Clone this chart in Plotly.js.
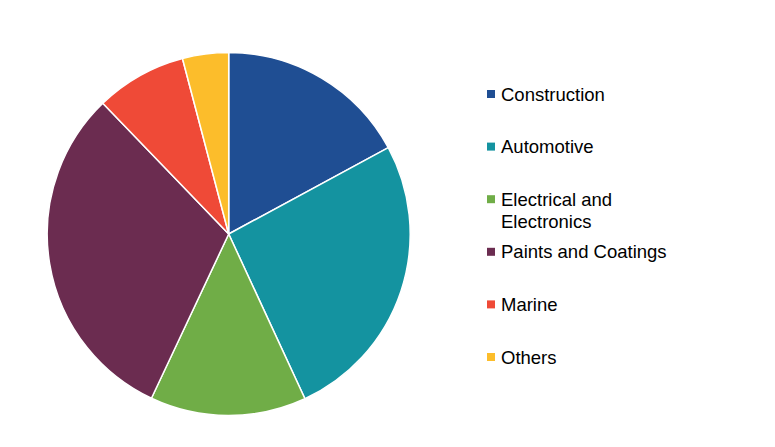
<!DOCTYPE html>
<html>
<head>
<meta charset="utf-8">
<script src="https://cdn.plot.ly/plotly-3.0.1.min.js"></script>
<style>html,body{margin:0;padding:0;background:#fff;}#chart{width:775px;height:447px;}</style>
</head>
<body>
<div id="chart"></div>
<script>
const categories = ["Construction", "Automotive", "Electrical and Electronics", "Paints and Coatings", "Marine", "Others"];
const legendLabels = ["Construction", "Automotive", "Electrical and<br>Electronics", "Paints and Coatings", "Marine", "Others"];
const shares = [17.1, 26.0, 13.9, 30.8, 8.1, 4.1];
const colors = ["#1F4E93", "#1493A0", "#70AD47", "#6B2C50", "#EF4A37", "#FCBD2B"];

const W = 775, H = 447;
const cx = 228.7, cy = 234, r = 181.5;

const trace = {
  type: "pie",
  labels: categories,
  values: shares,
  sort: false,
  direction: "clockwise",
  rotation: 0,
  textinfo: "none",
  hoverinfo: "label+percent",
  marker: {colors: colors, line: {color: "#ffffff", width: 1.5}},
  domain: {
    x: [(cx - r) / W, (cx + r) / W],
    y: [(H - cy - r) / H, (H - cy + r) / H]
  },
  showlegend: false
};

const legendX = 487, legendTextX = 499, legendY0 = 94, legendStep = 52.6, lineStep = 22;
const shapes = [], annotations = [];
categories.forEach((c, i) => {
  const y = legendY0 + i * legendStep;
  shapes.push({
    type: "rect", xref: "paper", yref: "paper",
    x0: legendX / W, x1: (legendX + 8) / W,
    y0: 1 - (y + 4) / H, y1: 1 - (y - 4) / H,
    fillcolor: colors[i], line: {width: 0}
  });
  legendLabels[i].split("<br>").forEach((line, k) => {
    annotations.push({
      xref: "paper", yref: "paper",
      x: legendTextX / W, y: 1 - (y + k * lineStep) / H,
      xanchor: "left", yanchor: "middle",
      text: line, showarrow: false, align: "left",
      font: {family: "Liberation Sans, Arial, sans-serif", size: 18.5, color: "#000000"}
    });
  });
});

const layout = {
  width: W, height: H,
  margin: {l: 0, r: 0, t: 0, b: 0},
  paper_bgcolor: "#ffffff",
  showlegend: false,
  shapes: shapes,
  annotations: annotations
};

Plotly.newPlot("chart", [trace], layout, {displayModeBar: false, staticPlot: true});
</script>
</body>
</html>
